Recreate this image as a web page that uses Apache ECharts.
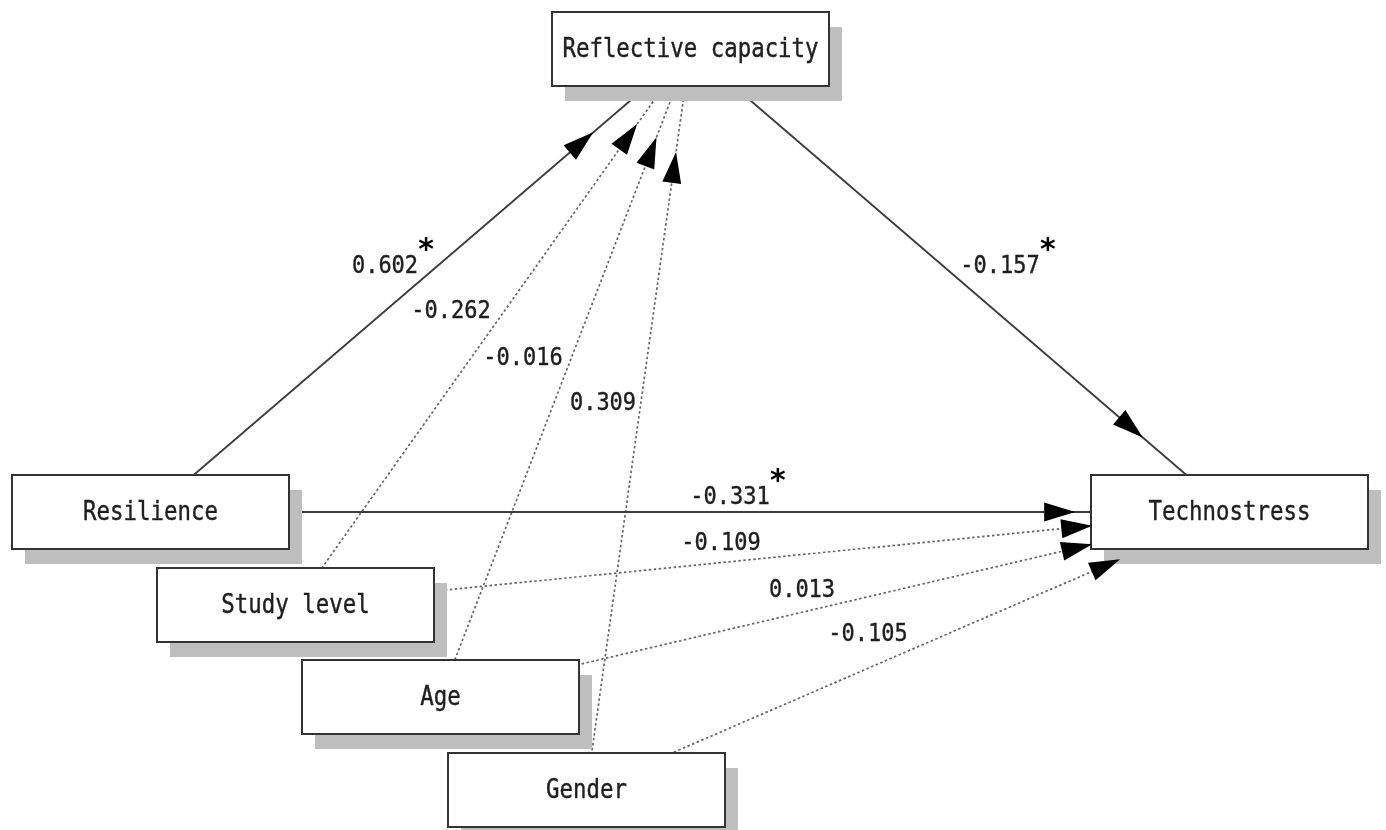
<!DOCTYPE html>
<html>
<head>
<meta charset="utf-8">
<title>Path model</title>
<script src="https://cdn.jsdelivr.net/npm/echarts@6/dist/echarts.min.js"></script>
<style>
  html, body { margin: 0; padding: 0; background: #fff; }
  #main { width: 1386px; height: 830px; }
</style>
</head>
<body>
<div id="main"></div>
<script>
// variables in the model
var nodeNames = ['Reflective capacity', 'Resilience', 'Study level', 'Age', 'Gender', 'Technostress'];

// paths: from -> to, standardized coefficient, significant or not
var edgeFrom = ['Resilience', 'Study level', 'Age', 'Gender', 'Reflective capacity', 'Resilience', 'Study level', 'Age', 'Gender'];
var edgeTo = ['Reflective capacity', 'Reflective capacity', 'Reflective capacity', 'Reflective capacity', 'Technostress', 'Technostress', 'Technostress', 'Technostress', 'Technostress'];
var edgeCoef = [0.602, -0.262, -0.016, 0.309, -0.157, -0.331, -0.109, 0.013, -0.105];
var edgeSig = [true, false, false, false, true, true, false, false, false];

/* ---------- layout (diagram units == canvas px) ---------- */
var nodeX = [690.5, 150.5, 295.5, 440.5, 586.5, 1229.5];
var nodeY = [49, 512, 605, 697, 790, 512];
var boxW = 277, boxH = 74;
var shadowDX = 13, shadowDY = 15;
// where the arrow tip sits along the centre-to-centre line
var arrowT = [0.82, 0.865, 0.864, 0.861, 0.839, 0.857, 0.853, 0.826, 0.83];
// coefficient label centres
var labelX = [385, 451, 523, 603, 1000, 730, 721, 802, 868];
var labelY = [266, 311, 358, 403, 266, 497, 543, 590, 634];

var BOX_FONT = "22.4px 'DejaVu Sans Mono'";
var LABEL_FONT = "22px 'DejaVu Sans Mono'";
var CHAR_W = 13.24;
var TEXT_COLOR = '#1e1e1e';

function ends (api, i) {
  var a = nodeNames.indexOf(edgeFrom[i])
  var b = nodeNames.indexOf(edgeTo[i])
  return [api.coord([nodeX[a], nodeY[a]]), api.coord([nodeX[b], nodeY[b]])]
}

function textEl (str, x, y, font, sy) {
  return {
    type: 'text', x: x, y: y, scaleY: sy,
    style: {
      text: str, font: font, fill: TEXT_COLOR, stroke: TEXT_COLOR, lineWidth: 0.35,
      align: 'center', verticalAlign: 'middle'
    }
  }
}

var chart = echarts.init(document.getElementById('main'))

var option = {
  animation: false,
  backgroundColor: '#fff',
  grid: { left: 0, right: 0, top: 0, bottom: 0 },
  xAxis: { type: 'value', min: 0, max: 1386, show: false },
  yAxis: { type: 'value', min: 0, max: 830, inverse: true, show: false },
  series: [
    // path lines (drawn under the boxes, so they look clipped at the box + shadow)
    {
      type: 'custom',
      z: 1,
      clip: false,
      data: edgeCoef.map(function (c, i) { return [0, 0, i] }),
      renderItem: function (params, api) {
        var i = api.value(2)
        var p = ends(api, i)
        var solid = edgeSig[i] || edgeFrom[i] === 'Resilience'
        return {
          type: 'line',
          shape: { x1: p[0][0], y1: p[0][1], x2: p[1][0], y2: p[1][1] },
          style: solid
            ? { stroke: '#3c3c3c', lineWidth: 1.8 }
            : { stroke: '#666', lineWidth: 1.7, lineDash: [2.5, 2.5] }
        }
      }
    },
    // boxes
    {
      type: 'custom',
      z: 2,
      clip: false,
      data: nodeNames.map(function (n, i) { return [nodeX[i], nodeY[i], i] }),
      renderItem: function (params, api) {
        var i = api.value(2)
        var c = api.coord([nodeX[i], nodeY[i]])
        var s = api.size([boxW, boxH])
        var x0 = c[0] - s[0] / 2, y0 = c[1] - s[1] / 2
        return {
          type: 'group',
          children: [
            { type: 'rect', shape: { x: x0 + shadowDX, y: y0 + shadowDY, width: s[0], height: s[1] }, style: { fill: '#bebebe' } },
            { type: 'rect', shape: { x: x0, y: y0, width: s[0], height: s[1] }, style: { fill: '#fff', stroke: '#333', lineWidth: 2 } },
            textEl(nodeNames[i], c[0], c[1] + 1, BOX_FONT, 1.22)
          ]
        }
      }
    },
    // arrowheads and coefficient labels
    {
      type: 'custom',
      z: 3,
      clip: false,
      data: edgeCoef.map(function (c, i) { return [labelX[i], labelY[i], i] }),
      renderItem: function (params, api) {
        var i = api.value(2)
        var p = ends(api, i)
        var dx = p[1][0] - p[0][0], dy = p[1][1] - p[0][1]
        var len = Math.sqrt(dx * dx + dy * dy)
        var ux = dx / len, uy = dy / len
        var tx = p[0][0] + dx * arrowT[i], ty = p[0][1] + dy * arrowT[i]
        var L = 31, W = 9.5
        var bx = tx - ux * L, by = ty - uy * L
        var lp = api.coord([labelX[i], labelY[i]])
        var txt = edgeCoef[i].toFixed(3)
        var kids = [
          {
            type: 'polygon',
            shape: { points: [[tx, ty], [bx - uy * W, by + ux * W], [bx + uy * W, by - ux * W]] },
            style: { fill: '#000' }
          },
          textEl(txt, lp[0], lp[1], LABEL_FONT, 1.15)
        ]
        if (edgeSig[i]) {
          kids.push({
            type: 'text', x: lp[0] + txt.length * CHAR_W / 2 + 8, y: lp[1] - 15,
            style: { text: '*', font: "bold 30px 'DejaVu Sans'", fill: '#000', align: 'center', verticalAlign: 'middle' }
          })
        }
        return { type: 'group', children: kids }
      }
    }
  ]
}

chart.setOption(option)
</script>
</body>
</html>
